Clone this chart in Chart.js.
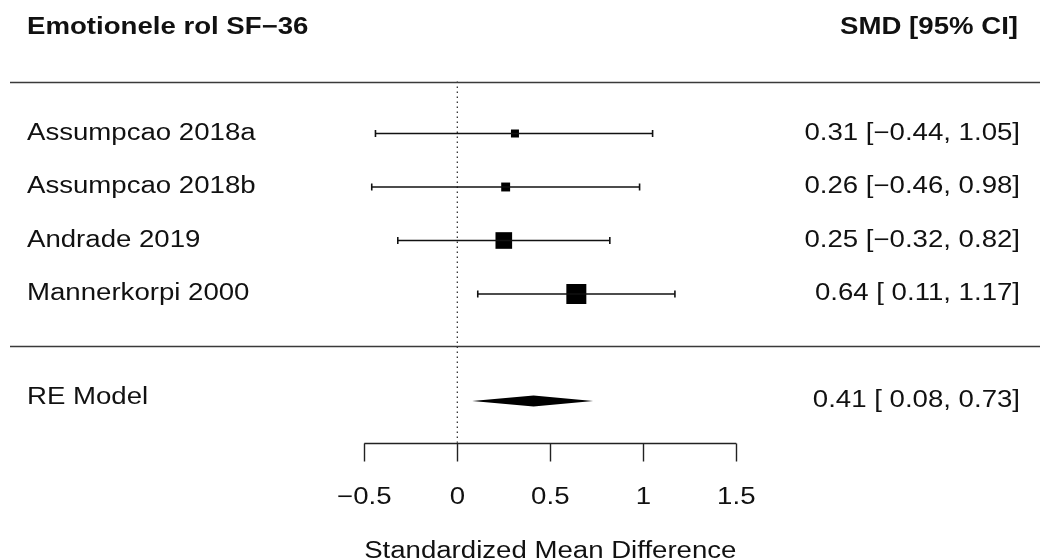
<!DOCTYPE html>
<html>
<head>
<meta charset="utf-8">
<script src="https://cdn.jsdelivr.net/npm/chart.js@4.4.1/dist/chart.umd.min.js"></script>
<style>
  html,body{margin:0;padding:0;background:#fff;}
  #wrap{width:1040px;height:560px;}
</style>
</head>
<body>
<div id="wrap"><canvas id="forest" width="1040" height="560"></canvas></div>
<script>
// forest plot data
const studies = ["Assumpcao 2018a", "Assumpcao 2018b", "Andrade 2019", "Mannerkorpi 2000"];
const smd = [0.31, 0.26, 0.25, 0.64];
const ciLow = [-0.44, -0.46, -0.32, 0.11];
const ciHigh = [1.05, 0.98, 0.82, 1.17];
const weights = [17.3, 18.6, 29.6, 34.4];
const pooledLabel = "RE Model";
const pooledSmd = 0.41, pooledLow = 0.08, pooledHigh = 0.73;
const xTicks = [-0.5, 0, 0.5, 1, 1.5];
const title = "Emotionele rol SF\u221236";
const colHeader = "SMD [95% CI]";
const xTitle = "Standardized Mean Difference";

// layout constants (rows in y units, scale chosen to fill the canvas)
const FONT = '"Liberation Sans", Arial, sans-serif';
const SX = 1.2;            // horizontal text stretch of the original
const rows = studies.map((s, i) => studies.length - i);   // 4..1
const rowPooled = -1, rowHead = 5.97, rowTopLine = 4.97, rowMidLine = 0.03, rowAxis = -1.78;

const fmt = v => (v < 0 ? "\u2212" : "") + Math.abs(v).toFixed(2);
const padLo = v => (v < 0 ? fmt(v) : " " + fmt(v));
const tickFmt = v => (v < 0 ? "\u2212" : "") + Math.abs(v);

const wMin = Math.min(...weights), wMax = Math.max(...weights);
const boxSize = w => 8 + (w - wMin) / (wMax - wMin) * 12;

function txt(ctx, s, x, y, align, bold){
  ctx.save();
  ctx.font = (bold ? "bold " : "") + "23px " + FONT;
  ctx.fillStyle = "#111";
  ctx.textBaseline = "middle";
  ctx.textAlign = align;
  ctx.translate(x, y);
  ctx.scale(SX, 1);
  ctx.fillText(s, 0, 0);
  ctx.restore();
}

const forestPlugin = {
  id: "forest",
  beforeDatasetsDraw(chart){
    const ctx = chart.ctx, xs = chart.scales.x, ys = chart.scales.y;
    const x0 = xs.getPixelForValue(0);
    // reference line at 0
    ctx.save();
    ctx.strokeStyle = "#222"; ctx.lineWidth = 1.2; ctx.setLineDash([1.5, 3.5]);
    ctx.beginPath();
    ctx.moveTo(x0, ys.getPixelForValue(rowTopLine));
    ctx.lineTo(x0, ys.getPixelForValue(rowAxis));
    ctx.stroke();
    ctx.restore();
  },
  afterDatasetsDraw(chart){
    const ctx = chart.ctx, xs = chart.scales.x, ys = chart.scales.y;
    const W = chart.width;
    // separator lines
    ctx.save();
    ctx.strokeStyle = "#3a3a3a"; ctx.lineWidth = 1.5;
    [rowTopLine, rowMidLine].forEach(r => {
      const y = Math.round(ys.getPixelForValue(r)) + 0.5;
      ctx.beginPath(); ctx.moveTo(10, y); ctx.lineTo(W, y); ctx.stroke();
    });
    ctx.restore();

    // pooled diamond
    const yd = ys.getPixelForValue(rowPooled), h = 5.5;
    ctx.save();
    ctx.fillStyle = "#000";
    ctx.beginPath();
    ctx.moveTo(xs.getPixelForValue(pooledLow), yd);
    ctx.lineTo(xs.getPixelForValue(pooledSmd), yd - h);
    ctx.lineTo(xs.getPixelForValue(pooledHigh), yd);
    ctx.lineTo(xs.getPixelForValue(pooledSmd), yd + h);
    ctx.closePath(); ctx.fill();
    ctx.restore();

    // x axis
    const ya = Math.round(ys.getPixelForValue(rowAxis)) + 0.5;
    ctx.save();
    ctx.strokeStyle = "#222"; ctx.lineWidth = 1.4;
    ctx.beginPath();
    ctx.moveTo(xs.getPixelForValue(xTicks[0]), ya);
    ctx.lineTo(xs.getPixelForValue(xTicks[xTicks.length - 1]), ya);
    xTicks.forEach(t => {
      const px = Math.round(xs.getPixelForValue(t)) + 0.5;
      ctx.moveTo(px, ya); ctx.lineTo(px, ya + 18);
    });
    ctx.stroke();
    ctx.restore();
    xTicks.forEach(t => txt(ctx, tickFmt(t), xs.getPixelForValue(t), ya + 54, "center"));
    const xMid = xs.getPixelForValue((xTicks[0] + xTicks[xTicks.length - 1]) / 2);
    txt(ctx, xTitle, xMid, ya + 108, "center");

    // headers
    const yh = ys.getPixelForValue(rowHead);
    txt(ctx, title, 27, yh, "left", true);
    txt(ctx, colHeader, 1018, yh, "right", true);

    // study labels and estimates
    studies.forEach((s, i) => {
      const y = ys.getPixelForValue(rows[i]);
      txt(ctx, s, 27, y, "left");
      txt(ctx, fmt(smd[i]) + " [" + padLo(ciLow[i]) + ", " + fmt(ciHigh[i]) + "]", 1020, y, "right");
    });
    const yp = ys.getPixelForValue(rowPooled);
    txt(ctx, pooledLabel, 27, yp - 3, "left");
    txt(ctx, fmt(pooledSmd) + " [" + padLo(pooledLow) + ", " + fmt(pooledHigh) + "]", 1020, yp, "right");
  }
};

// one whisker dataset per study, plus the weighted squares
const whiskers = studies.map((s, i) => ({
  label: s,
  data: [{x: ciLow[i], y: rows[i]}, {x: ciHigh[i], y: rows[i]}],
  showLine: true,
  borderColor: "#111",
  borderWidth: 1.4,
  pointStyle: "line",
  rotation: 90,
  radius: 3.5,
  pointBorderWidth: 1.6,
  pointBorderColor: "#111"
}));
const squares = {
  label: "SMD",
  data: studies.map((s, i) => ({x: smd[i], y: rows[i]})),
  pointStyle: "rect",
  radius: studies.map((s, i) => boxSize(weights[i]) / Math.SQRT2),
  backgroundColor: "#000",
  borderWidth: 0
};

// x/y ranges picked so 0 sits at 457px and one SMD unit spans 186px
const pxPerUnit = 186, zeroPx = 457.3, rowPx = 53.5, row1Px = 294;
new Chart(document.getElementById("forest").getContext("2d"), {
  type: "scatter",
  data: { datasets: [...whiskers, squares] },
  options: {
    responsive: false, animation: false, devicePixelRatio: 1,
    layout: { padding: 0, autoPadding: false },
    plugins: { legend: { display: false }, tooltip: { enabled: false } },
    scales: {
      x: { type: "linear", display: false, min: -zeroPx / pxPerUnit, max: (1040 - zeroPx) / pxPerUnit },
      y: { type: "linear", display: false, min: 1 - (560 - row1Px) / rowPx, max: 1 + row1Px / rowPx }
    }
  },
  plugins: [forestPlugin]
});
</script>
</body>
</html>
